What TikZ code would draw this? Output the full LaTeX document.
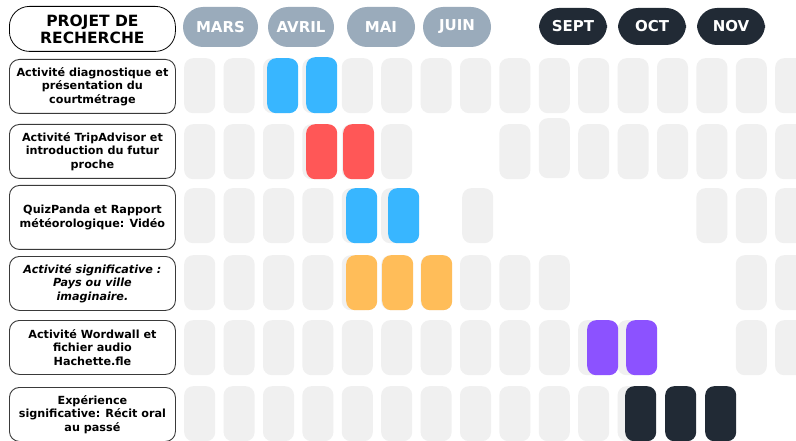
\documentclass[tikz,border=0pt]{standalone}
\usepackage{fontspec}
\setmainfont{DejaVu Sans}
\definecolor{cellgray}{HTML}{F0F0F0}
\definecolor{pillgray}{HTML}{9AABBB}
\definecolor{pilldark}{HTML}{212A35}
\definecolor{cblue}{HTML}{38B6FF}
\definecolor{cred}{HTML}{FF5757}
\definecolor{corange}{HTML}{FFBD59}
\definecolor{cpurple}{HTML}{8C52FF}
\definecolor{labborder}{HTML}{3A3A3A}
\begin{document}
\begin{tikzpicture}[x=1pt,y=-1pt,
  cell/.style={fill=cellgray, draw=none, rounded corners=9pt, minimum width=31pt, minimum height=55pt, inner sep=0pt, anchor=north west},
  act/.style={cell, fill=#1},
  lab/.style={draw=labborder, line width=0.9pt, fill=white, rounded corners=10pt, minimum width=166pt, minimum height=54pt, inner sep=0pt, align=center, anchor=north west, font=\fontsize{11.2}{13.6}\selectfont\bfseries},
  month/.style={fill=#1, rounded corners=20pt, minimum width=68pt, minimum height=40pt, inner sep=0pt, text=white, font=\fontsize{15}{17}\selectfont\bfseries},
  head/.style={draw=black, line width=0.8pt, fill=white, rounded corners=20pt, minimum width=166pt, minimum height=45pt, inner sep=0pt, align=center, anchor=north west, font=\fontsize{15.5}{17}\selectfont\bfseries}
]
\useasboundingbox[fill=white] (0,0) rectangle (796,441);

% header
\node[head] (h) at (9,6) {PROJET DE\\RECHERCHE};
\node[month=pillgray, minimum width=75pt] (m1) at (220.5,27) {MARS};
\node[month=pillgray, minimum width=66pt] (m2) at (301,27) {AVRIL};
\node[month=pillgray] (m3) at (381,27) {MAI};
\node[month=pillgray] (m4) at (457,27) {JUIN};
\node[month=pilldark, minimum height=37pt] (m5) at (573,26.5) {SEPT};
\node[month=pilldark, minimum height=37pt] (m6) at (652,26.5) {OCT};
\node[month=pilldark, minimum height=37pt] (m7) at (731,26.5) {NOV};

% gray grid cells
\foreach \c in {1,...,16} \node[cell] (ca-\c) at ({184+(\c-1)*39.4},58) {};
\foreach \c in {1,...,6,9,11,12,13,14,15,16} \node[cell] (cb-\c) at ({184+(\c-1)*39.4},124) {};
\node[cell, minimum height=60pt] (cb-10) at (538.6,118) {};
\foreach \c in {1,...,6,14,15,16} \node[cell] (cc-\c) at ({184+(\c-1)*39.4},188) {};
\node[cell] (cc-8) at (462,188) {};
\foreach \c in {1,...,10,15,16} \node[cell] (cd-\c) at ({184+(\c-1)*39.4},255) {};
\foreach \c in {1,...,12,15,16} \node[cell] (ce-\c) at ({184+(\c-1)*39.4},320) {};
\foreach \c in {1,...,12} \node[cell] (cf-\c) at ({184+(\c-1)*39.4},386) {};

% activity cells
\node[act=cblue] (a1) at (267,58) {};
\node[act=cblue, minimum height=56pt] (a2) at (306,57) {};
\node[act=cred] (b1) at (306,124) {};
\node[act=cred] (b2) at (343,124) {};
\node[act=cblue] (d1) at (346,188) {};
\node[act=cblue] (d2) at (388,188) {};
\node[act=corange] (e1) at (346,255) {};
\node[act=corange] (e2) at (382,255) {};
\node[act=corange] (e3) at (421,255) {};
\node[act=cpurple] (f1) at (587,320) {};
\node[act=cpurple] (f2) at (626,320) {};
\node[act=pilldark] (g1) at (625,386) {};
\node[act=pilldark] (g2) at (665,386) {};
\node[act=pilldark] (g3) at (705,386) {};

% row labels
\node[lab] (l1) at (9,59) {Activité diagnostique et\\présentation du\\courtmétrage};
\node[lab] (l2) at (9,124) {Activité TripAdvisor et\\introduction du futur\\proche};
\node[lab, minimum height=64pt] (l3) at (9,185) {QuizPanda et Rapport\\météorologique: Vidéo};
\node[lab, font=\fontsize{11.2}{13.6}\selectfont\bfseries\itshape] (l4) at (9,256) {Activité significative :\\Pays ou ville\\imaginaire.};
\node[lab] (l5) at (9,320) {Activité Wordwall et\\fichier audio\\Hachette.fle};
\node[lab] (l6) at (9,387) {Expérience\\significative: Récit oral\\au passé};
\end{tikzpicture}
\end{document}
